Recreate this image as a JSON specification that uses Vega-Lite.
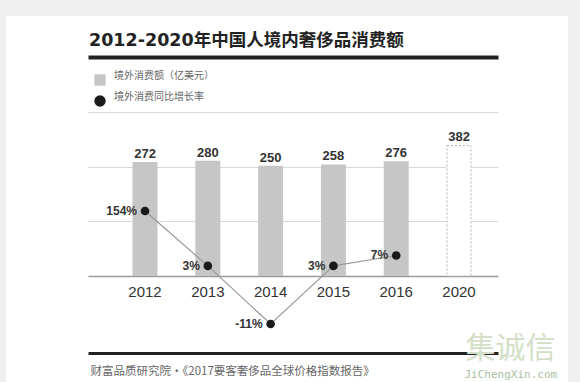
{
  "$schema": "https://vega.github.io/schema/vega-lite/v6.json",
  "width": 562,
  "height": 366,
  "autosize": "none",
  "padding": {"left": 6, "top": 16, "right": 12, "bottom": 0},
  "background": "#f0f0f0",
  "config": {"view": {"fill": "white", "stroke": null}, "font": "Liberation Sans"},
  "title": {
    "text": "2012-2020年中国人境内奢侈品消费额",
    "anchor": "start",
    "frame": "group",
    "dx": 83,
    "offset": -47,
    "baseline": "alphabetic",
    "fontSize": 17.5,
    "font": "DejaVu Sans, Noto Sans CJK SC",
    "fontWeight": "bold",
    "color": "#222222"
  },
  "data": {
    "values": [
      {"year": "2012", "spend": 272, "growth": 154, "growth_label": "154%", "type": "实际"},
      {"year": "2013", "spend": 280, "growth": 3, "growth_label": "3%", "type": "实际"},
      {"year": "2014", "spend": 250, "growth": -11, "growth_label": "-11%", "type": "实际"},
      {"year": "2015", "spend": 258, "growth": 3, "growth_label": "3%", "type": "实际"},
      {"year": "2016", "spend": 276, "growth": 7, "growth_label": "7%", "type": "实际"},
      {"year": "2020", "spend": 382, "growth": null, "growth_label": null, "type": "预测"}
    ]
  },
  "layer": [
    {
      "encoding": {
        "x": {
          "field": "year",
          "type": "nominal",
          "sort": null,
          "scale": {"range": [82, 492], "paddingInner": 0.602, "paddingOuter": 0.5655, "align": 0.627},
          "axis": {
            "orient": "bottom",
            "offset": -106,
            "domain": false,
            "ticks": false,
            "tickSize": 0,
            "grid": false,
            "labelAngle": 0,
            "labelPadding": 8.5,
            "labelFontSize": 15,
            "labelColor": "#333333",
            "labelFont": "Liberation Sans",
            "title": "财富品质研究院·《2017要客奢侈品全球价格指数报告》",
            "titleX": 84,
            "titleY": 95,
            "titleAlign": "left",
            "titleAnchor": "start",
            "titleBaseline": "middle",
            "titleFont": "Noto Sans CJK SC",
            "titleFontSize": 11.5,
            "titleFontWeight": "normal",
            "titleColor": "#666666"
          }
        },
        "y": {
          "field": "spend",
          "type": "quantitative",
          "scale": {"type": "pow", "exponent": 0.4, "domain": [0, 400], "range": [260, 127], "nice": false, "zero": true},
          "axis": {
            "orient": "left",
            "domain": false,
            "labels": false,
            "ticks": false,
            "grid": false,
            "title": "集诚信",
            "titleAngle": 0,
            "titleX": 459,
            "titleY": 332,
            "titleAlign": "left",
            "titleBaseline": "middle",
            "titleFont": "Noto Sans CJK SC",
            "titleFontSize": 30,
            "titleFontWeight": "normal",
            "titleColor": "#d3dfc8"
          }
        }
      },
      "layer": [
        {
          "transform": [{"filter": "datum.type == '实际'"}],
          "mark": {"type": "bar", "width": 25},
          "encoding": {
            "color": {
              "datum": "境外消费额（亿美元）",
              "scale": {"domain": ["境外消费额（亿美元）", "境外消费同比增长率"], "range": ["#c6c6c6", "#1a1a1a"]},
              "legend": {
                "orient": "none",
                "legendX": 88,
                "legendY": 58,
                "title": null,
                "padding": 0,
                "rowPadding": 6,
                "symbolSize": 130,
                "symbolStrokeWidth": 0,
                "symbolOpacity": 1,
                "labelFontSize": 10,
                "labelColor": "#666666",
                "labelOffset": 8,
                "labelFont": "Noto Sans CJK SC",
                "encode": {
                  "symbols": {"update": {"shape": {"signal": "datum.value === '境外消费额（亿美元）' ? 'square' : 'circle'"}}},
                  "labels": {"update": {"dy": {"value": -4}}}
                }
              }
            }
          }
        },
        {
          "transform": [{"filter": "datum.type == '预测'"}],
          "mark": {"type": "bar", "width": 24, "fill": "white", "stroke": "#b5b5b5", "strokeDash": [2, 2], "strokeWidth": 1}
        },
        {
          "mark": {"type": "text", "baseline": "alphabetic", "dy": -4, "fontSize": 13, "fontWeight": "bold", "color": "#333333", "font": "Liberation Sans"},
          "encoding": {"text": {"field": "spend", "type": "quantitative", "format": "d"}}
        }
      ]
    },
    {
      "encoding": {
        "x": {"field": "year", "type": "nominal", "sort": null},
        "y": {
          "field": "growth",
          "type": "quantitative",
          "scale": {"type": "symlog", "constant": 1, "domain": [-11, 154], "range": [308, 195], "nice": false, "zero": false},
          "axis": {
            "orient": "right",
            "domain": false,
            "labels": false,
            "ticks": false,
            "grid": false,
            "title": "JiChengXin.com",
            "titleAngle": 0,
            "titleX": -104,
            "titleY": 358,
            "titleAlign": "left",
            "titleBaseline": "middle",
            "titleFont": "DejaVu Sans Mono",
            "titleFontSize": 11,
            "titleFontWeight": "normal",
            "titleColor": "#a9bfa0"
          }
        }
      },
      "layer": [
        {"mark": {"type": "line", "color": "#9a9a9a", "strokeWidth": 1.2}},
        {
          "mark": {"type": "point", "filled": true, "size": 75, "opacity": 1},
          "encoding": {"color": {"datum": "境外消费同比增长率"}}
        },
        {
          "mark": {"type": "text", "align": "right", "baseline": "middle", "dx": -8, "fontSize": 12, "fontWeight": "bold", "color": "#333333", "font": "Liberation Sans"},
          "encoding": {"text": {"field": "growth_label", "type": "nominal"}}
        }
      ]
    },
    {
      "mark": {"type": "point", "opacity": 0},
      "encoding": {
        "x": {"field": "year", "type": "nominal", "sort": null},
        "y": {
          "datum": 0,
          "type": "quantitative",
          "scale": {"domain": [-1.4, 4], "range": [337, 41], "nice": false, "zero": false},
          "axis": {
            "orient": "left",
            "values": [-1.4, 0, 1, 2, 3, 4],
            "domain": false,
            "labels": false,
            "ticks": false,
            "title": null,
            "grid": true,
            "gridColor": {
              "condition": [
                {"test": "datum.value > 3.5 || datum.value < -1", "value": "#222222"},
                {"test": "datum.value == 0", "value": "#9a9a9a"}
              ],
              "value": "#d8d8d8"
            },
            "gridWidth": {
              "condition": [
                {"test": "datum.value > 3.5", "value": 4},
                {"test": "datum.value < -1", "value": 3},
                {"test": "datum.value == 0", "value": 1.6}
              ],
              "value": 1
            }
          }
        }
      }
    }
  ],
  "resolve": {"scale": {"y": "independent"}, "axis": {"y": "independent"}}
}
